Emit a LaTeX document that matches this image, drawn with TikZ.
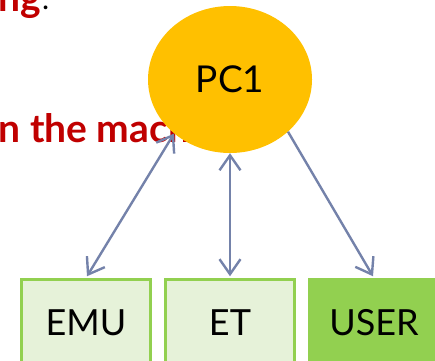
\documentclass[tikz,border=0pt]{standalone}
\usepackage{fontspec}
\setmainfont{Lato}
\usetikzlibrary{arrows.meta,shapes.geometric}
\definecolor{pcfill}{RGB}{255,192,0}
\definecolor{linkcol}{RGB}{116,130,170}
\definecolor{boxline}{RGB}{146,208,80}
\definecolor{boxlight}{RGB}{230,242,217}
\definecolor{headred}{RGB}{192,0,0}
\tikzset{
  pcnode/.style={ellipse, fill=pcfill, minimum width=164pt, minimum height=147pt, inner sep=0pt,
    font=\fontsize{37}{40}\selectfont},
  boxnode/.style={draw=boxline, line width=3.5pt, minimum width=129pt, minimum height=86pt,
    inner sep=0pt, font=\fontsize{36}{40}\selectfont},
  lightbox/.style={boxnode, fill=boxlight},
  darkbox/.style={boxnode, fill=boxline},
  link/.style={draw=linkcol, line width=2.4pt},
  headtext/.style={text=headred, font=\fontsize{39}{42}\selectfont\bfseries, inner sep=0pt}
}
\begin{document}
\begin{tikzpicture}[x=1pt,y=-1pt]
\useasboundingbox (0,0) rectangle (435,360);
\clip (0,0) rectangle (435,360);
\node[headtext, anchor=base east] (h1) at (41,11) {ng};
\node[inner sep=0pt, anchor=base west, font=\fontsize{30}{32}\selectfont] (dot) at (42,9.5) {.};
\node[headtext, anchor=base west] (h2) at (-1.5,142) {n the mach};
\node[pcnode] (pc) at (230,79.5) {PC1};
\node[lightbox] (emu) at (86,322.5) {EMU};
\node[lightbox] (et) at (230,322.5) {ET};
\node[darkbox] (user) at (374,322.5) {USER};
\draw[link, {Straight Barb[length=15pt,width=21pt]}-{Straight Barb[length=15pt,width=21pt]}] (pc.-136.8) -- ([xshift=1pt,yshift=1.5pt]emu.north);
\draw[link, {Straight Barb[length=15pt,width=21pt]}-{Straight Barb[length=15pt,width=21pt]}] (pc.south) -- ([yshift=1.5pt]et.north);
\draw[link, -{Straight Barb[length=15pt,width=21pt]}] (pc.-42.6) -- ([xshift=-1pt,yshift=1.5pt]user.north);
\end{tikzpicture}
\end{document}
